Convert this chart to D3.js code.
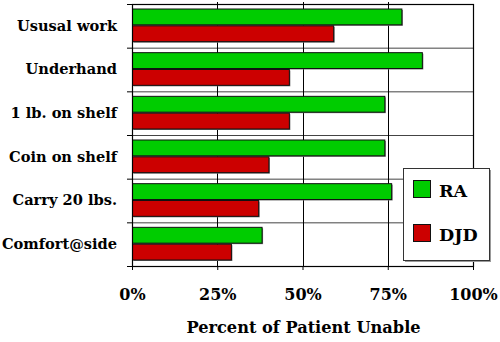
<!DOCTYPE html>
<html>
<head>
<meta charset="utf-8">
<script src="https://cdn.jsdelivr.net/npm/d3@7"></script>
<style>
  html, body { margin: 0; padding: 0; background: #fff; }
  svg { display: block; }
  text { font-family: "DejaVu Serif", "Liberation Serif", serif; font-weight: bold; fill: #000; }
</style>
</head>
<body>
<svg id="chart" width="500" height="342"></svg>
<script>
// Tasks and share of patients unable to perform them
const categories = ["Ususal work", "Underhand", "1 lb. on shelf", "Coin on shelf", "Carry 20 lbs.", "Comfort@side"];
const seriesNames = ["RA", "DJD"];
const raValues  = [79, 85, 74, 74, 76, 38];
const djdValues = [59, 46, 46, 40, 37, 29];
const xTicks = [0, 25, 50, 75, 100];
const xTitle = "Percent of Patient Unable";

const colors = { RA: "#00cc00", DJD: "#cc0000" };

const svg = d3.select("#chart");
const plot = { left: 132, right: 473, top: 4, bottom: 266 };

const x = d3.scaleLinear().domain([0, 100]).range([plot.left, plot.right]);
const y = d3.scaleBand().domain(categories).range([plot.top, plot.bottom]);
const bw = y.bandwidth();
const inner = d3.scaleBand().domain(seriesNames).range([4.5, bw - 5.5]);

const rows = categories.map((c, i) => ({ cat: c, RA: raValues[i], DJD: djdValues[i] }));

// horizontal separators between task groups
const bounds = categories.slice(1).map(c => y(c));
svg.append("g").selectAll("line").data(bounds).join("line")
  .attr("x1", plot.left).attr("x2", plot.right)
  .attr("y1", d => d + 0.5).attr("y2", d => d + 0.5)
  .attr("stroke", "#444").attr("stroke-width", 1);

// vertical grid lines
svg.append("g").selectAll("line").data(xTicks.slice(1, -1)).join("line")
  .attr("x1", d => Math.round(x(d)) + 0.5).attr("x2", d => Math.round(x(d)) + 0.5)
  .attr("y1", plot.top - 2).attr("y2", plot.bottom)
  .attr("stroke", "#000").attr("stroke-width", 1);

// bars
const groups = svg.append("g").selectAll("g").data(rows).join("g")
  .attr("transform", d => `translate(0,${y(d.cat)})`);

seriesNames.forEach(s => {
  // soft shadow under each bar
  groups.append("rect")
    .attr("x", x(0) + 1.5)
    .attr("y", inner(s) + 1.5)
    .attr("width", d => x(d[s]) - x(0))
    .attr("height", inner.bandwidth() - 1)
    .attr("fill", "#777");
  groups.append("rect")
    .attr("x", x(0) + 0.5)
    .attr("y", inner(s) + 0.5)
    .attr("width", d => x(d[s]) - x(0))
    .attr("height", inner.bandwidth() - 1)
    .attr("fill", colors[s])
    .attr("stroke", "#111").attr("stroke-width", 1);
});

// plot frame
svg.append("rect")
  .attr("x", plot.left + 0.5).attr("y", plot.top + 0.5)
  .attr("width", plot.right - plot.left).attr("height", plot.bottom - plot.top)
  .attr("fill", "none").attr("stroke", "#000").attr("stroke-width", 1.2);
svg.append("line")
  .attr("x1", plot.left - 5).attr("x2", plot.left)
  .attr("y1", plot.top + 0.5).attr("y2", plot.top + 0.5)
  .attr("stroke", "#000");

// left axis: boundary ticks
svg.append("g").selectAll("line").data(bounds.concat([plot.bottom])).join("line")
  .attr("x1", plot.left - 5).attr("x2", plot.left)
  .attr("y1", d => d + 0.5).attr("y2", d => d + 0.5)
  .attr("stroke", "#000");

// category labels
const yAxis = d3.axisLeft(y).tickSize(0).tickPadding(15);
svg.append("g").attr("transform", `translate(${plot.left},0)`).call(yAxis)
  .call(g => g.select(".domain").remove())
  .selectAll("text")
  .attr("font-size", 14.6)
  .style("font-family", '"DejaVu Serif", serif').style("font-weight", "bold");

// bottom axis
const xAxis = d3.axisBottom(x).tickValues(xTicks).tickSize(4).tickPadding(19)
  .tickFormat(d => d + "%");
svg.append("g").attr("transform", `translate(0,${plot.bottom})`).call(xAxis)
  .call(g => g.select(".domain").remove())
  .call(g => g.selectAll(".tick line").attr("stroke", "#000"))
  .selectAll("text")
  .attr("font-size", 16)
  .style("font-family", '"DejaVu Serif", serif').style("font-weight", "bold");

// axis title
svg.append("text")
  .attr("x", (plot.left + plot.right) / 2 + 1)
  .attr("y", 333)
  .attr("text-anchor", "middle")
  .attr("font-size", 16.2)
  .text(xTitle);

// legend
const lg = svg.append("g").attr("transform", "translate(403,168)");
lg.append("rect").attr("x", 2).attr("y", 2).attr("width", 86).attr("height", 92).attr("fill", "#999");
lg.append("rect").attr("x", 0.5).attr("y", 0.5).attr("width", 86).attr("height", 92)
  .attr("fill", "#fff").attr("stroke", "#333");
const items = lg.selectAll("g.item").data(seriesNames).join("g")
  .attr("class", "item")
  .attr("transform", (d, i) => `translate(10,${12 + i * 44})`);
items.append("rect").attr("x", 0.5).attr("y", 0.5).attr("width", 17).attr("height", 17)
  .attr("fill", d => colors[d]).attr("stroke", "#111");
items.append("text").attr("x", 26).attr("y", 16.5).attr("font-size", 17.5).text(d => d);
</script>
</body>
</html>
